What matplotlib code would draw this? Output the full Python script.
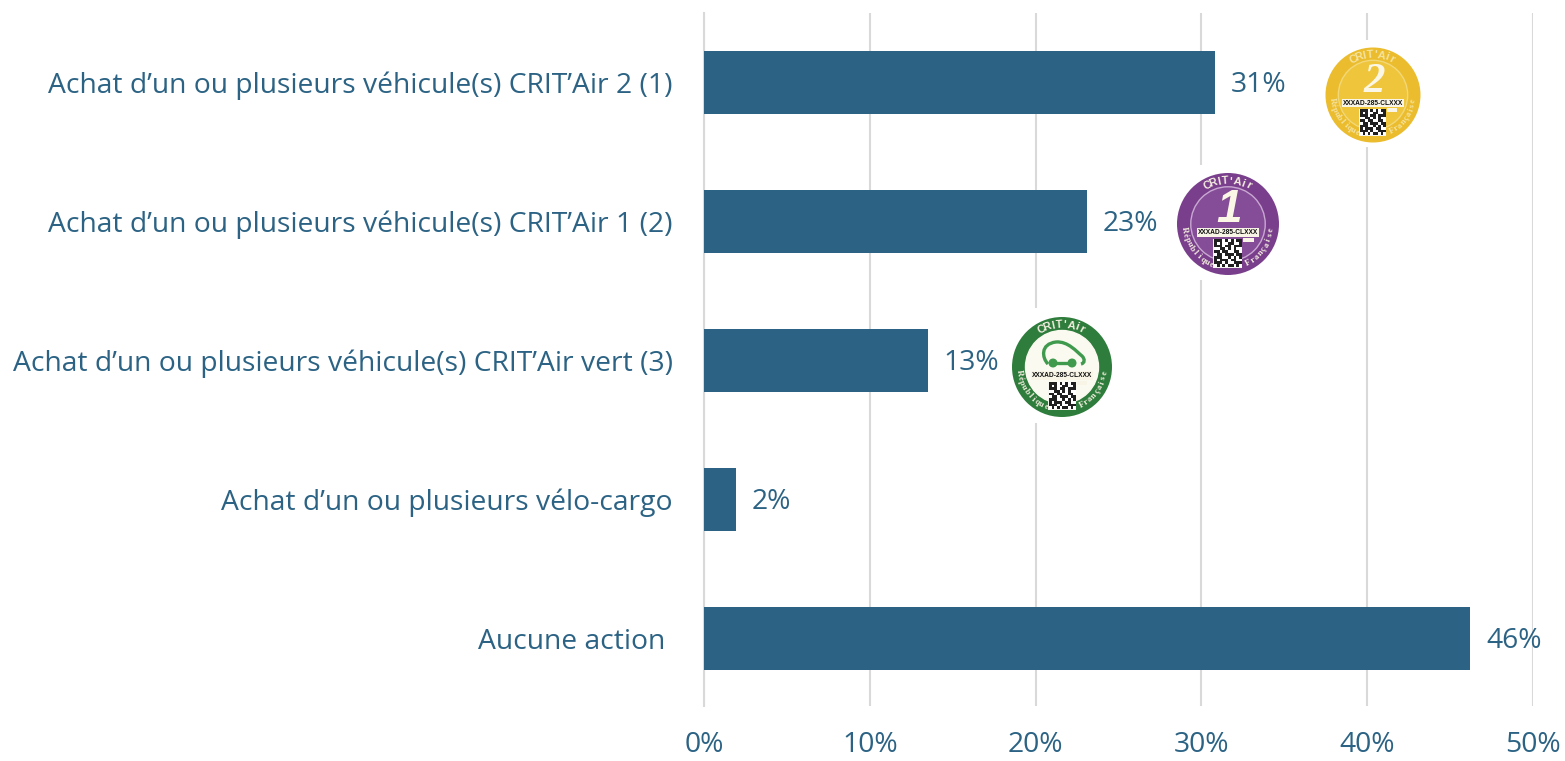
"""Actions d'achat de vehicules - CRIT'Air"""

import numpy as np
import matplotlib
matplotlib.use("Agg")
import matplotlib.pyplot as plt
from matplotlib.patches import Circle, PathPatch, Rectangle
from matplotlib.path import Path

WIDTH = 1565
HEIGHT = 761
BLUE = "#2c6384"
GRID = "#d9d9d9"
FONT_SIZE = 20.3

categories = [
    "Achat d’un ou plusieurs véhicule(s) CRIT’Air 2 (1)",
    "Achat d’un ou plusieurs véhicule(s) CRIT’Air 1 (2)",
    "Achat d’un ou plusieurs véhicule(s) CRIT’Air vert (3)",
    "Achat d’un ou plusieurs vélo-cargo",
    "Aucune action ",
]
values = [30.8, 23.1, 13.5, 1.9, 46.2]
value_labels = ["31%", "23%", "13%", "2%", "46%"]
x_ticks = [0, 10, 20, 30, 40, 50]
x_tick_labels = ["0%", "10%", "20%", "30%", "40%", "50%"]

# rough look of the QR code printed on the stickers
qr_rows = [
    "1110101011",
    "1010011001",
    "1110110111",
    "0011010100",
    "1101100110",
    "0110111011",
    "1110010101",
    "1011101100",
    "1110100111",
    "0101011010",
]

plt.rcParams["font.family"] = ["Open Sans", "DejaVu Sans"]


def curved_text(ax, text, cx, cy, radius, start, end, color, size, family="Liberation Sans"):
    """Write text along a circle, angles in degrees, y axis pointing down"""
    for char, angle in zip(text, np.linspace(start, end, len(text))):
        rad = np.radians(angle)
        rotation = -angle - 90 if np.sin(rad) < 0 else 90 - angle
        ax.text(cx + radius * np.cos(rad), cy + radius * np.sin(rad), char, color=color,
                fontsize=size, family=family, fontweight="bold", rotation=rotation,
                ha="center", va="center")


def qr_code(ax, x, y, size):
    """Small black and white square standing for the QR code"""
    cells = np.array([[int(c) for c in row] for row in qr_rows])
    ax.add_patch(Rectangle((x - 1, y - 1), size + 2, size + 2, facecolor="#f5f5f0", edgecolor="none"))
    ax.imshow(1 - cells, cmap="gray", vmin=-0.15, vmax=1, extent=(x, x + size, y + size, y),
              interpolation="nearest", aspect="auto", zorder=3)


def badge(ax, cx, cy, radius, ring, inner, line, text_color, mark, mark_size, mark_family):
    """Draw one CRIT'Air sticker"""
    ax.add_patch(Circle((cx, cy), radius, facecolor=ring, edgecolor="none"))
    ax.add_patch(Circle((cx, cy), radius * 0.73, facecolor=inner, edgecolor=line, linewidth=1))
    curved_text(ax, "CRIT'Air", cx, cy, radius * 0.85, -118, -62, text_color, 8)
    curved_text(ax, "République", cx, cy, radius * 0.86, 172, 112, text_color, 6.2, "Liberation Serif")
    curved_text(ax, "Française", cx, cy, radius * 0.86, 62, 8, text_color, 6.2, "Liberation Serif")
    if mark:
        ax.text(cx + 1, cy - radius * 0.28, mark, color="#fbf7e6", fontsize=mark_size, family=mark_family,
                style="italic", fontweight="bold", ha="center", va="center")
    ax.text(cx, cy + radius * 0.17, "XXXAD-285-CLXXX", color="#111111", fontsize=4.8, family="Liberation Sans",
            fontweight="bold", ha="center", va="center", zorder=4,
            bbox={"facecolor": "#f8f5e6", "edgecolor": "none", "pad": 0.6})
    qr_code(ax, cx - radius * 0.27, cy + radius * 0.31, radius * 0.53)
    ax.add_patch(Rectangle((cx + radius * 0.3, cy + radius * 0.27), radius * 0.2, radius * 0.09,
                           facecolor="#f8f5e6", edgecolor="none"))


fig = plt.figure(figsize=(WIDTH / 100, HEIGHT / 100), dpi=100, facecolor="white")
ax = fig.add_axes([704 / WIDTH, 1 - 706 / HEIGHT, (1533 - 704) / WIDTH, (706 - 13) / HEIGHT])

y_pos = np.arange(len(categories))
ax.barh(y_pos, values, height=0.453, color=BLUE, zorder=3)
ax.set_xlim(0, 50)
ax.set_ylim(4.486, -0.5)
ax.set_xticks(x_ticks, x_tick_labels)
ax.set_yticks(y_pos, categories)
ax.grid(axis="x", color=GRID, linewidth=1.5, zorder=0)
ax.set_axisbelow(True)
for spine in ["top", "right", "bottom"]:
    ax.spines[spine].set_visible(False)
ax.spines["left"].set_color(GRID)
ax.spines["left"].set_linewidth(1.5)
ax.tick_params(axis="both", length=0, colors=BLUE, labelsize=FONT_SIZE)
ax.tick_params(axis="x", pad=18)
ax.tick_params(axis="y", pad=22.5)

for y, value, label in zip(y_pos, values, value_labels):
    ax.annotate(label, (value, y), xytext=(11.5, -2), textcoords="offset points", color=BLUE,
                fontsize=FONT_SIZE, va="center", ha="left", zorder=4)

# overlay in pixel coordinates for the stickers pasted on the chart
over = fig.add_axes([0, 0, 1, 1], facecolor="none")
for box in [(1320, 40, 105, 107), (1170, 165, 115, 115), (1005, 308, 113, 115)]:
    over.add_patch(Rectangle(box[:2], box[2], box[3], facecolor="white", edgecolor="none"))

badge(over, 1373, 95, 47.5, "#ebbd2e", "#efc53c", "#f3d878", "#f5e3a0", "2", 31, "Liberation Serif")
badge(over, 1228, 224, 51, "#7a3f8c", "#854c98", "#c9a8d2", "#f4efe0", "1", 33, "Liberation Sans")
badge(over, 1062, 367, 50, "#2f7d3c", "#fbfaf0", "#fbfaf0", "#f4efe0", None, 0, None)

# small car of the green sticker
car = Path(
    [(1048, 364), (1042, 358), (1040, 344), (1056, 342), (1068, 341), (1077, 352), (1082, 356),
     (1085, 359), (1085, 363), (1081, 364)],
    [Path.MOVETO] + [Path.CURVE4] * 9,
)
over.add_patch(PathPatch(car, facecolor="none", edgecolor="#3f9a4e", linewidth=2.4))
over.plot([1053, 1072], [363, 363], color="#3f9a4e", linewidth=2.4)
over.add_patch(Circle((1053, 363), 3.8, color="#3f9a4e"))
over.add_patch(Circle((1072, 363), 3.8, color="#3f9a4e"))

over.set_xlim(0, WIDTH)
over.set_ylim(HEIGHT, 0)
over.axis("off")

fig.savefig("out.png", dpi=100)
